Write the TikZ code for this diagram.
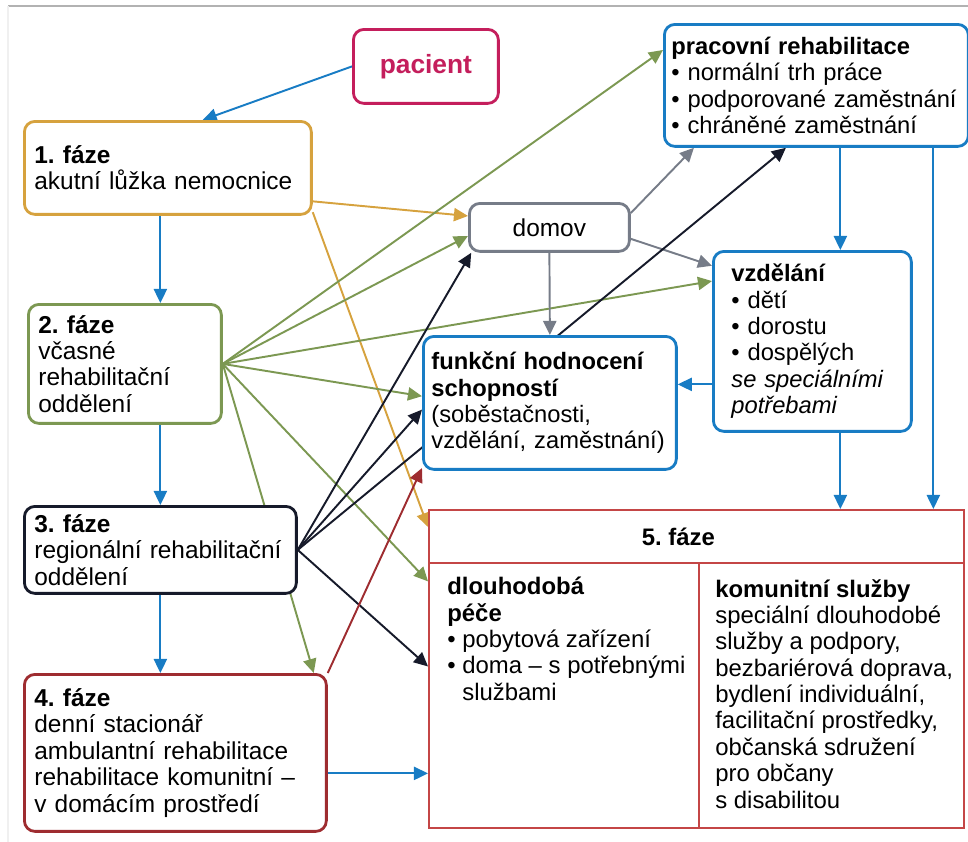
\documentclass[tikz,border=0pt]{standalone}
\usepackage{fontspec}
\setmainfont{Liberation Sans}
\usetikzlibrary{arrows.meta,calc}
\definecolor{pacred}{RGB}{196,30,92}
\definecolor{goldc}{RGB}{214,162,62}
\definecolor{greenc}{RGB}{124,152,82}
\definecolor{darkc}{RGB}{22,26,42}
\definecolor{brownc}{RGB}{158,44,48}
\definecolor{grayc}{RGB}{118,124,136}
\definecolor{bluec}{RGB}{24,124,196}
\definecolor{redc}{RGB}{196,70,70}
\pgfdeclarelayer{bg}
\pgfsetlayers{bg,main}
\tikzset{
  >={Triangle[length=8pt,width=7.5pt]},
  box/.style={draw, line width=1.6pt, rounded corners=6pt, fill=white, anchor=north west,
    align=left, inner xsep=0.2cm, font=\fontsize{13.9}{15}\selectfont},
  bluebox/.style={box, draw=bluec, font=\fontsize{13.5}{15}\selectfont},
  cell/.style={draw=redc, line width=1pt, fill=white, anchor=north west,
    font=\fontsize{13.6}{15}\selectfont},
  txt/.style={anchor=north west, align=left, inner sep=0pt, font=\fontsize{13.6}{15}\selectfont},
  arr/.style={->, line width=1.1pt},
}

\begin{document}
\frenchspacing
\begin{tikzpicture}[x=0.02cm, y=-0.02cm]
\useasboundingbox (0,0) rectangle (968,842);
\draw[gray!60, line width=0.8pt] (8,6) -- (968,6);
\draw[gray!12, line width=0.8pt] (8,6) -- (8,842);

\node[box, draw=pacred, text=pacred, minimum width=2.9cm, minimum height=1.48cm, align=center,
  font=\fontsize{15}{18}\selectfont\bfseries] (pac) at (352,28) {pacient};
\node[box, draw=goldc, minimum width=5.74cm, minimum height=1.86cm, text width=5.34cm] (f1) at (23,120)
  {\textbf{1. fáze}\\akutní lůžka nemocnice};
\node[box, draw=greenc, minimum width=3.86cm, minimum height=2.38cm, text width=3.46cm] (f2) at (27,303)
  {\textbf{2. fáze}\\včasné\\rehabilitační\\oddělení};
\node[box, draw=darkc, minimum width=5.44cm, minimum height=1.74cm, text width=5.04cm] (f3) at (23,505)
  {\textbf{3. fáze}\\regionální rehabilitační\\oddělení};
\node[box, draw=brownc, minimum width=6.04cm, minimum height=3.14cm, text width=5.64cm] (f4) at (23,673)
  {\textbf{4. fáze}\\denní stacionář\\ambulantní rehabilitace\\rehabilitace komunitní –\\v domácím prostředí};
\node[box, draw=grayc, minimum width=3.2cm, minimum height=0.96cm, align=center] (domov) at (468,202) {domov};
\node[bluebox, minimum width=6.08cm, minimum height=2.44cm, inner xsep=0.14cm, text width=5.8cm] (prac) at (663,23)
  {\textbf{pracovní rehabilitace}\\• normální trh práce\\• podporované zaměstnání\\• chráněné zaměstnání};
\node[bluebox, minimum width=3.96cm, minimum height=3.6cm, inner xsep=0.36cm, text width=3.24cm] (vzd) at (712,250)
  {\textbf{vzdělání}\\• dětí\\• dorostu\\• dospělých\\\textit{se speciálními}\\\textit{potřebami}};
\node[bluebox, minimum width=5.06cm, minimum height=2.66cm, inner xsep=0.16cm, text width=4.74cm] (fhs) at (422,335)
  {\textbf{funkční hodnocení}\\\textbf{schopností}\\(soběstačnosti,\\vzdělání, zaměstnání)};

\node[cell, minimum width=10.7cm, minimum height=1.06cm] (f5) at (428,509) {\textbf{5. fáze}\kern0.72cm};
\node[cell, minimum width=5.4cm, minimum height=5.3cm] (f5a) at (428,562) {};
\node[cell, minimum width=5.3cm, minimum height=5.3cm] (f5b) at (698,562) {};
\node[txt] (f5at) at (447,577)
  {\textbf{dlouhodobá}\\\textbf{péče}\\• pobytová zařízení\\• doma – s potřebnými\\\hphantom{• }službami};
\node[txt] (f5bt) at (715,579)
  {\textbf{komunitní služby}\\speciální dlouhodobé\\služby a podpory,\\bezbariérová doprava,\\bydlení individuální,\\facilitační prostředky,\\občanská sdružení\\pro občany\\s disabilitou};

\begin{pgfonlayer}{bg}
\draw[arr, bluec] (pac.west) -- (f1.54);
\draw[arr, bluec] (f1.south -| f3.north) -- (f2.north -| f3.north);
\draw[arr, bluec] (f2.south -| f3.north) -- (f3.north);
\draw[arr, bluec] (f3.south) -- (f3.south |- f4.north);
\draw[arr, bluec] ([yshift=-0.41cm]f4.east) -- ([yshift=-0.41cm]f4.east -| f5a.west);
\draw[arr, bluec] ([xshift=.56cm]vzd.north |- prac.south) -- ([xshift=.56cm]vzd.north);
\draw[arr, bluec] ([xshift=.56cm]vzd.south) -- ([xshift=.56cm]vzd.south |- f5.north);
\draw[arr, bluec] ([xshift=2.34cm]prac.south) -- ([xshift=2.34cm]prac.south |- f5.north);
\draw[arr, bluec] ([yshift=-.86cm]vzd.west) -- ([yshift=-.86cm]vzd.west -| fhs.east);

\draw[arr, goldc] (f1.-13) -- (domov.172);
\draw[arr, goldc] (f1.-17) -- (f5.178);

\foreach \t in {prac.167, domov.186, vzd.149, fhs.177, f5a.140, f4.30}
  \draw[arr, greenc] (f2.east) -- (\t);

\draw[arr, grayc] (domov.10) -- (prac.207);
\draw[arr, grayc] (domov.-8) -- (vzd.143);
\draw[arr, grayc] (domov.south) -- (fhs.north);

\foreach \t in {domov.198, fhs.183, prac.244, f5a.168}
  \draw[arr, darkc] (f3.east) -- (\t);

\draw[arr, brownc] (f4.north east) -- (fhs.207);
\end{pgfonlayer}
\end{tikzpicture}
\end{document}
